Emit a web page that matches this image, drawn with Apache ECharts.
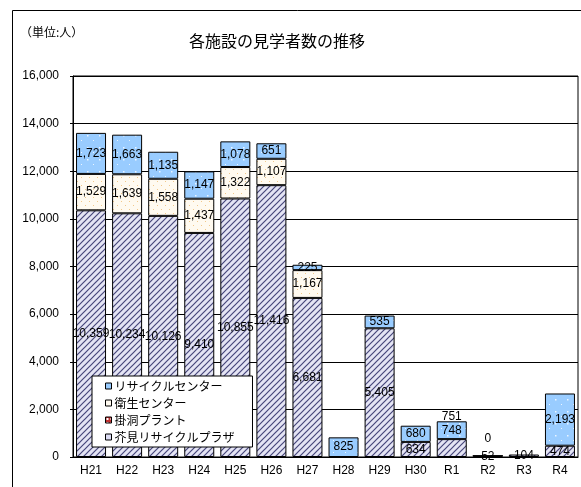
<!DOCTYPE html>
<html><head><meta charset="utf-8">
<script src="https://cdn.jsdelivr.net/npm/echarts@6/dist/echarts.min.js"></script>
<style>html,body{margin:0;padding:0;background:#fff}#c{width:581px;height:487px}</style>
</head><body><div id="c"></div>
<script>
const categories = ['H21','H22','H23','H24','H25','H26','H27','H28','H29','H30','R1','R2','R3','R4'];
const plaza    = [10359,10234,10126,9410,10855,11416,6681,null,5405,634,751,52,104,474];
const kakehora = [null,null,null,null,null,null,null,null,null,null,null,null,null,null];
const eisei    = [1529,1639,1558,1437,1322,1107,1167,null,null,null,null,null,null,null];
const recycle  = [1723,1663,1135,1147,1078,651,225,825,535,680,748,0,null,2193];
const yTicks = [0,2000,4000,6000,8000,10000,12000,14000,16000];
const seriesNames = ['リサイクルセンター','衛生センター','掛洞プラント','芥見リサイクルプラザ'];

function pattern(w,h,draw){const c=document.createElement('canvas');c.width=w;c.height=h;const g=c.getContext('2d');draw(g,w,h);return {image:c,repeat:'repeat'};}
const plazaFill = pattern(6,6,(g,w,h)=>{g.fillStyle='#e4e4f4';g.fillRect(0,0,w,h);g.strokeStyle='#46467a';g.lineWidth=1.2;
  g.beginPath();g.moveTo(-1,h+1);g.lineTo(w+1,-1);g.moveTo(-1,1);g.lineTo(1,-1);g.moveTo(w-1,h+1);g.lineTo(w+1,h-1);g.stroke();});
const eiseiFill = pattern(8,8,(g,w,h)=>{g.fillStyle='#fffaf0';g.fillRect(0,0,w,h);g.fillStyle='#f2c88a';g.fillRect(1,1,1,1);g.fillRect(5,5,1,1);});
const recycleFill = pattern(12,12,(g,w,h)=>{g.fillStyle='#99ccff';g.fillRect(0,0,w,h);g.fillStyle='rgba(255,255,255,0.8)';g.fillRect(3,3,1.5,1.5);g.fillRect(9,8,1,1);});
const kakeFill = pattern(4,4,(g,w,h)=>{g.fillStyle='#c03030';g.fillRect(0,0,w,h);g.fillStyle='#fff';g.fillRect(1,1,2,2);});

const fmt = p => (p.value===null||p.value===undefined) ? '' : Number(p.value).toLocaleString('en-US');
const lbl = {show:true, position:'inside', color:'#000', fontSize:12, fontFamily:'Liberation Sans, Arial, sans-serif', formatter:fmt};

function withLabelOffsets(arr, offsets){
  return arr.map((v,i)=> offsets[i] ? {value:v, label:{position:'inside', offset:offsets[i]}} : v);
}
const plazaData = withLabelOffsets(plaza, {10:[0,-31]});
const recycleData = withLabelOffsets(recycle, {11:[0,-17]});

const chart = echarts.init(document.getElementById('c'), null, {renderer:'canvas'});
chart.setOption({
  animation:false,
  backgroundColor:'#fff',
  graphic:[
    {type:'rect', shape:{x:12.5,y:10.5,width:700,height:600}, style:{fill:'none',stroke:'#000',lineWidth:1}, silent:true, z:-1},
    {type:'text', left:20, top:26, style:{text:'（単位:人）', font:'12px "Noto Sans CJK JP"', fill:'#000'}},
    {type:'text', left:189, top:33, style:{text:'各施設の見学者数の推移', font:'16px "Noto Sans CJK JP"', fill:'#000'}}
  ],
  legend:{
    orient:'vertical', left:92, top:376,
    data:[
      {name:seriesNames[0], itemStyle:{color:'#99ccff', borderColor:'#000', borderWidth:1}},
      {name:seriesNames[1], itemStyle:{color:'#fffaf0', borderColor:'#000', borderWidth:1}},
      {name:seriesNames[2], itemStyle:{color:kakeFill, borderColor:'#000', borderWidth:1}},
      {name:seriesNames[3], itemStyle:{color:'#dcdcf4', borderColor:'#000', borderWidth:1}}
    ],
    icon:'rect', itemWidth:6, itemHeight:6, itemGap:3,
    padding:[3,18,3,13],
    backgroundColor:'#fff', borderColor:'#000', borderWidth:1,
    textStyle:{fontSize:12, lineHeight:14, fontFamily:'"Noto Sans CJK JP"', color:'#000', padding:[0,0,0,-2]}
  },
  grid:{left:73, right:3, top:76, bottom:30, show:true, borderColor:'#000', borderWidth:1},
  xAxis:{
    type:'category', data:categories,
    axisLine:{lineStyle:{color:'#000'}},
    axisTick:{inside:true, length:4, lineStyle:{color:'#000'}},
    axisLabel:{color:'#000', fontSize:12, fontFamily:'Liberation Sans, Arial, sans-serif', margin:8}
  },
  yAxis:{
    type:'value', min:yTicks[0], max:yTicks[yTicks.length-1], interval:yTicks[1]-yTicks[0],
    axisLine:{show:true, lineStyle:{color:'#000'}},
    axisTick:{show:true, length:3, lineStyle:{color:'#000'}},
    splitLine:{lineStyle:{color:'#000', width:1}},
    axisLabel:{color:'#000', fontSize:12, fontFamily:'Liberation Sans, Arial, sans-serif', margin:14,
      formatter:v=>v.toLocaleString('en-US')}
  },
  series:[
    {name:seriesNames[3], type:'bar', stack:'s', data:plazaData, barWidth:30,
      itemStyle:{color:plazaFill, borderColor:'#000', borderWidth:1}, label:lbl},
    {name:seriesNames[2], type:'bar', stack:'s', data:kakehora, barWidth:30,
      itemStyle:{color:kakeFill, borderColor:'#000', borderWidth:1}, label:lbl},
    {name:seriesNames[1], type:'bar', stack:'s', data:eisei, barWidth:30,
      itemStyle:{color:eiseiFill, borderColor:'#000', borderWidth:1}, label:lbl},
    {name:seriesNames[0], type:'bar', stack:'s', data:recycleData, barWidth:30,
      itemStyle:{color:recycleFill, borderColor:'#000', borderWidth:1}, label:lbl}
  ]
});
</script></body></html>
